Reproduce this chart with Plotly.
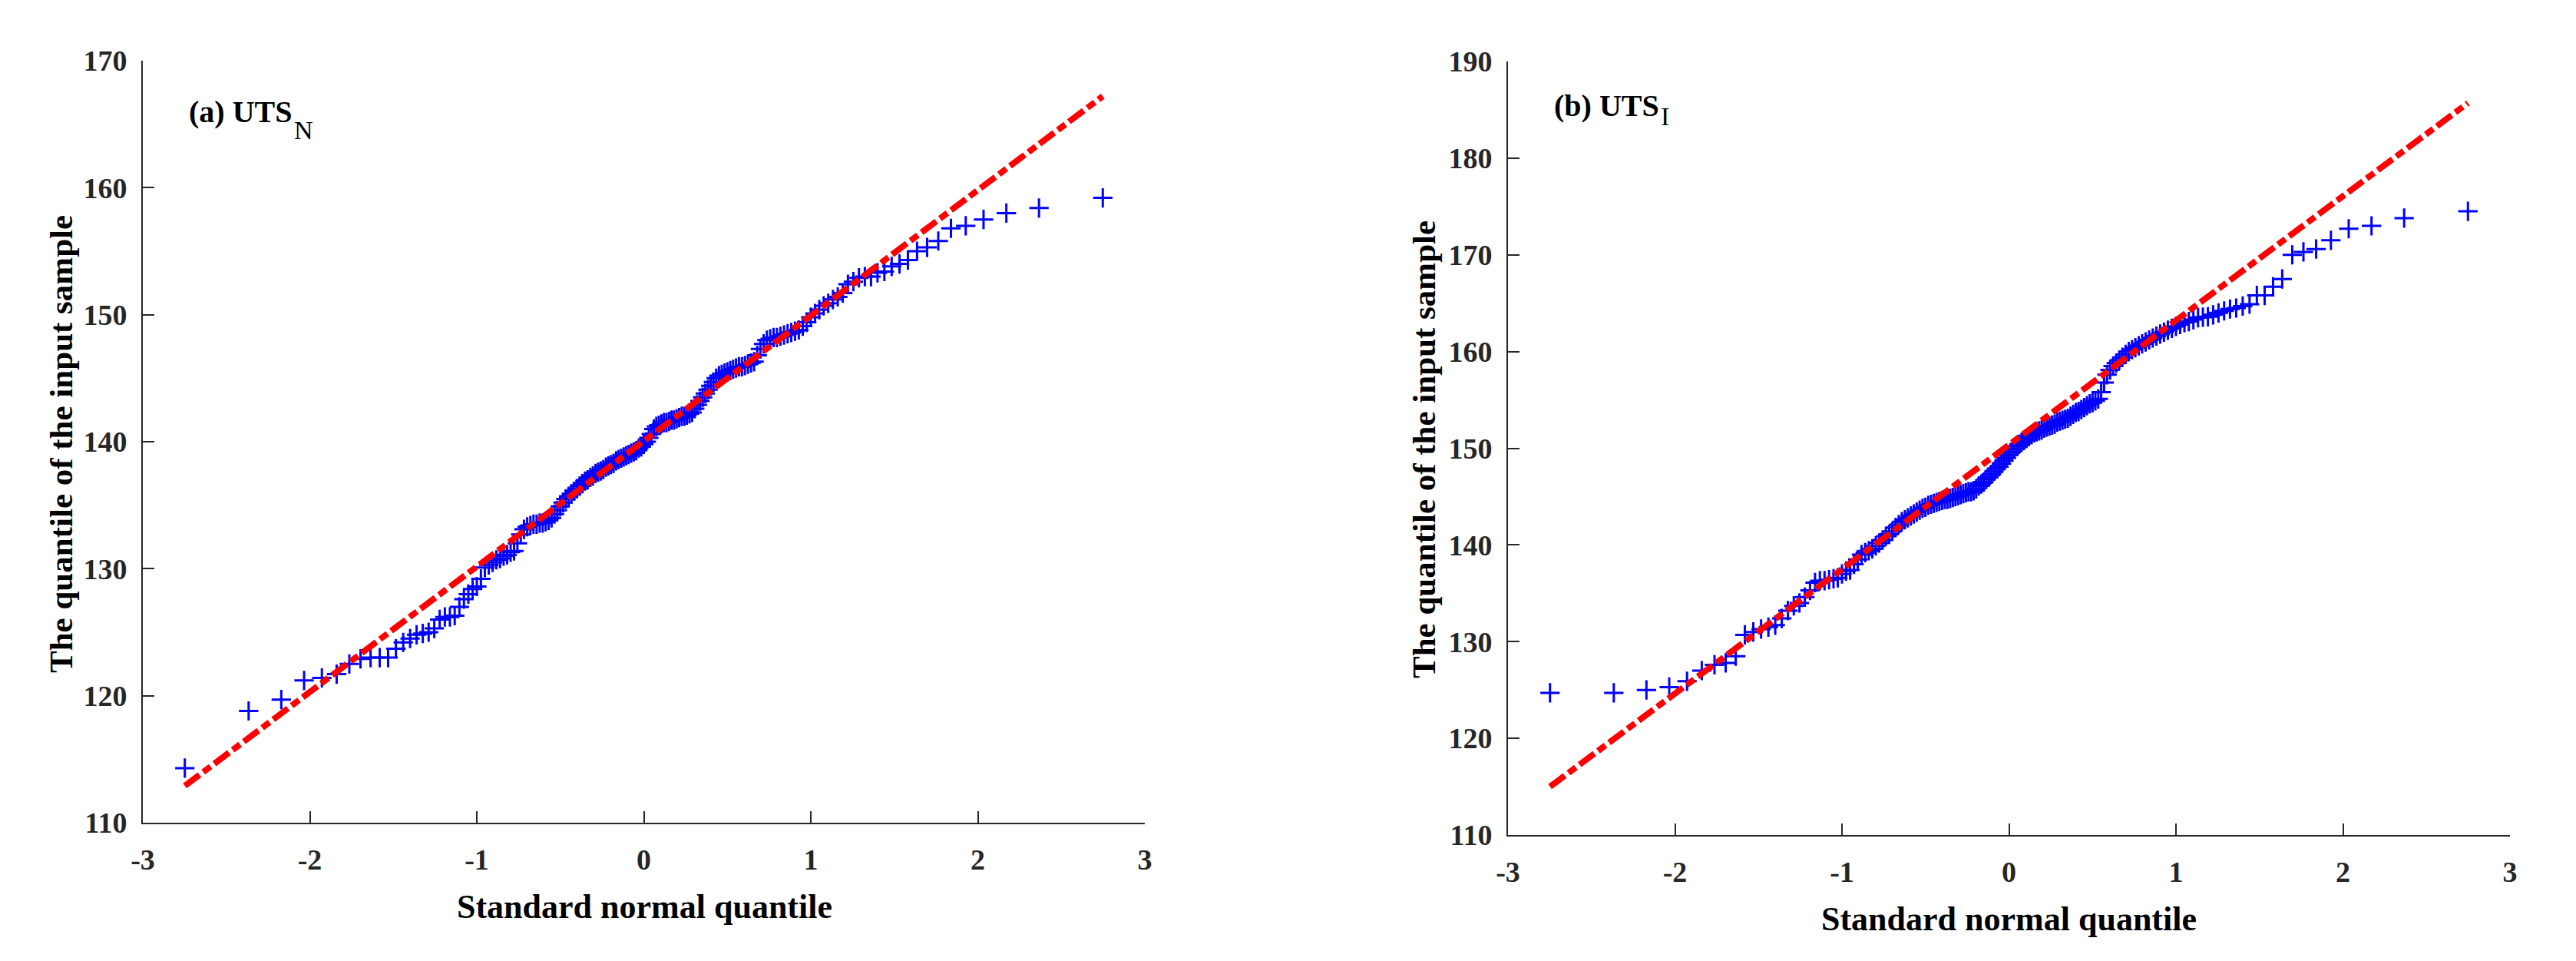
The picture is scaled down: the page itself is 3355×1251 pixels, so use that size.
from statistics import NormalDist

import plotly.graph_objects as go

# sorted sample values (167 specimens each)
uts_n = [
    114.3, 118.8, 119.7, 121.2, 121.4, 121.7, 122.5, 122.9, 123.0, 123.0,
    123.0, 123.7, 124.2, 124.5, 124.8, 124.9, 125.0, 125.3, 126.0, 126.2,
    126.2, 126.3, 127.0, 127.6, 128.0, 128.4, 128.6, 129.2, 130.1, 130.3,
    130.5, 130.7, 130.8, 131.0, 131.1, 131.3, 131.4, 132.0, 132.7, 133.1,
    133.3, 133.4, 133.5, 133.5, 133.6, 133.6, 133.7, 133.8, 134.0, 134.3,
    134.6, 134.9, 135.2, 135.5, 135.7, 135.9, 136.1, 136.3, 136.5, 136.7,
    136.9, 137.0, 137.2, 137.3, 137.5, 137.6, 137.7, 137.8, 138.0, 138.1,
    138.2, 138.3, 138.5, 138.6, 138.7, 138.8, 138.9, 139.0, 139.1, 139.2,
    139.3, 139.5, 139.6, 139.8, 140.0, 140.3, 140.6, 141.0, 141.2, 141.3,
    141.4, 141.5, 141.5, 141.6, 141.7, 141.7, 141.8, 141.9, 142.0, 142.0,
    142.1, 142.2, 142.3, 142.6, 142.9, 143.2, 143.5, 143.8, 144.1, 144.4,
    144.7, 145.0, 145.2, 145.3, 145.4, 145.5, 145.6, 145.7, 145.8, 145.9,
    145.9, 146.0, 146.1, 146.2, 146.3, 146.8, 147.3, 147.7, 148.0, 148.1,
    148.2, 148.2, 148.3, 148.4, 148.5, 148.6, 148.7, 148.8, 149.1, 149.4,
    149.8, 150.1, 150.4, 150.7, 150.9, 151.2, 151.4, 151.7, 152.4, 152.6,
    152.9, 153.0, 153.0, 153.3, 153.4, 153.8, 154.0, 154.3, 155.0, 155.3,
    155.8, 156.8, 157.0, 157.5, 158.0, 158.4, 159.2,
]

uts_i = [
    124.7, 124.7, 125.0, 125.3, 125.9, 127.0, 127.6, 127.8, 128.5, 130.7,
    131.0, 131.3, 131.5, 131.7, 132.4, 133.2, 133.7, 134.0, 134.6, 135.3,
    136.1, 136.3, 136.3, 136.4, 136.5, 136.6, 137.0, 137.3, 137.4, 138.0,
    138.5, 139.0, 139.2, 139.4, 139.6, 139.9, 140.2, 140.5, 140.9, 141.1,
    141.4, 141.8, 142.1, 142.4, 142.6, 142.8, 143.0, 143.2, 143.4, 143.6,
    143.8, 143.9, 144.1, 144.2, 144.3, 144.4, 144.5, 144.6, 144.7, 144.7,
    144.8, 144.9, 145.0, 145.1, 145.2, 145.3, 145.4, 145.5, 145.5, 145.6,
    145.8, 146.1, 146.3, 146.5, 146.8, 147.0, 147.3, 147.6, 147.9, 148.1,
    148.4, 148.7, 149.0, 149.3, 149.6, 149.9, 150.2, 150.4, 150.6, 150.8,
    151.0, 151.2, 151.4, 151.6, 151.7, 151.8, 151.9, 152.1, 152.2, 152.3,
    152.4, 152.5, 152.7, 152.8, 152.9, 153.0, 153.1, 153.3, 153.5, 153.7,
    153.8, 154.0, 154.2, 154.4, 154.6, 154.7, 154.9, 155.1, 155.8, 156.8,
    157.6, 158.1, 158.5, 158.8, 159.1, 159.4, 159.7, 160.0, 160.2, 160.4,
    160.6, 160.8, 161.0, 161.2, 161.4, 161.6, 161.8, 162.0, 162.2, 162.4,
    162.6, 162.8, 163.0, 163.1, 163.3, 163.5, 163.55, 163.6, 163.8, 164.0,
    164.2, 164.4, 164.5, 164.7, 164.9, 165.8, 165.8, 166.7, 167.5, 170.0,
    170.3, 170.6, 171.5, 172.7, 173.0, 173.8, 174.5,
]

# reference lines (through the quartiles, drawn over the data range)
line_n_y = [112.9, 167.2]
line_i_y = [115.0, 185.7]

x_tick_vals = [-3, -2, -1, 0, 1, 2, 3]
x_tick_text = ["-3", "-2", "-1", "0", "1", "2", "3"]
y_ticks_n = [110, 120, 130, 140, 150, 160, 170]
y_ticks_i = [110, 120, 130, 140, 150, 160, 170, 180, 190]

panel_labels = ["(a) UTS", "(b) UTS"]
panel_subs = ["N", "I"]
x_title = "Standard normal quantile"
y_title = "The quantile of the input sample"

W, H = 3355, 1251
OFF = 8  # the page body margin shifts the whole figure by this much
FONT = "Liberation Serif, Times New Roman, serif"
AXIS = "#262626"


def px(x):
    return (x - OFF) / W


def py(y):
    return 1 - (y - OFF) / H


def normal_quantiles(n):
    # theoretical positions used by qqplot: (i - 0.5) / n
    nd = NormalDist()
    return [nd.inv_cdf((i - 0.5) / n) for i in range(1, n + 1)]


fig = go.Figure()

panels = [
    dict(y=uts_n, line=line_n_y, xa="x", ya="y"),
    dict(y=uts_i, line=line_i_y, xa="x2", ya="y2"),
]
for p in panels:
    q = normal_quantiles(len(p["y"]))
    fig.add_trace(go.Scatter(
        x=q, y=p["y"], mode="markers", xaxis=p["xa"], yaxis=p["ya"],
        marker=dict(symbol="cross-thin", size=18, line=dict(width=3, color="#0000ff")),
        showlegend=False, hoverinfo="skip",
    ))
    fig.add_trace(go.Scatter(
        x=[q[0], q[-1]], y=p["line"], mode="lines", xaxis=p["xa"], yaxis=p["ya"],
        line=dict(color="#ff0000", width=8, dash="24px,6px,12px,6px"),
        showlegend=False, hoverinfo="skip",
    ))

tick_font = dict(family=FONT, size=38, color=AXIS, weight="bold")
common_x = dict(
    range=[-3, 3], tickvals=x_tick_vals, ticktext=x_tick_text,
    showline=True, linecolor=AXIS, linewidth=2, mirror=False,
    ticks="inside", ticklen=15, tickwidth=2, tickcolor=AXIS,
    showgrid=False, zeroline=False, tickfont=tick_font, ticklabelstandoff=13,
    automargin=False,
)
common_y = dict(
    showline=True, linecolor=AXIS, linewidth=2, mirror=False,
    ticks="inside", ticklen=15, tickwidth=2, tickcolor=AXIS,
    showgrid=False, zeroline=False, tickfont=tick_font, ticklabelstandoff=11,
    automargin=False,
)

fig.update_layout(
    width=W, height=H,
    margin=dict(l=0, r=0, t=0, b=0, autoexpand=False),
    paper_bgcolor="white", plot_bgcolor="white",
    xaxis=dict(domain=[px(186), px(1491)], anchor="y", **common_x),
    yaxis=dict(domain=[py(1071), py(79)], anchor="x", range=[110, 170],
               tickvals=y_ticks_n, **common_y),
    xaxis2=dict(domain=[px(1964), px(3269)], anchor="y2", **common_x),
    yaxis2=dict(domain=[py(1087), py(80)], anchor="x2", range=[110, 190],
                tickvals=y_ticks_i, **common_y),
)

ann = []
# axis titles
for cx, cy in [(839, 1180), (2616, 1196)]:
    ann.append(dict(x=px(cx), y=py(cy), text=x_title,
                    font=dict(family=FONT, size=44, color="black", weight="bold")))
for cx, cy in [(79, 578), (1854, 585)]:
    ann.append(dict(x=px(cx), y=py(cy), text=y_title, textangle=-90,
                    font=dict(family=FONT, size=43, color="black", weight="bold")))
# panel labels with their subscripts
for lab, (lx, ly) in zip(panel_labels, [(244, 146), (2022, 138)]):
    ann.append(dict(x=px(lx), y=py(ly), text=lab, xanchor="left",
                    font=dict(family=FONT, size=40, color="black", weight="bold")))
for sub, (sx, sy) in zip(panel_subs, [(381, 170), (2161, 151)]):
    ann.append(dict(x=px(sx), y=py(sy), text=sub, xanchor="left",
                    font=dict(family=FONT, size=34, color="black")))
for a in ann:
    a.update(xref="paper", yref="paper", showarrow=False)
    a.setdefault("xanchor", "center")
    a.setdefault("yanchor", "middle")
fig.update_layout(annotations=ann)

fig.write_html("out.html")
